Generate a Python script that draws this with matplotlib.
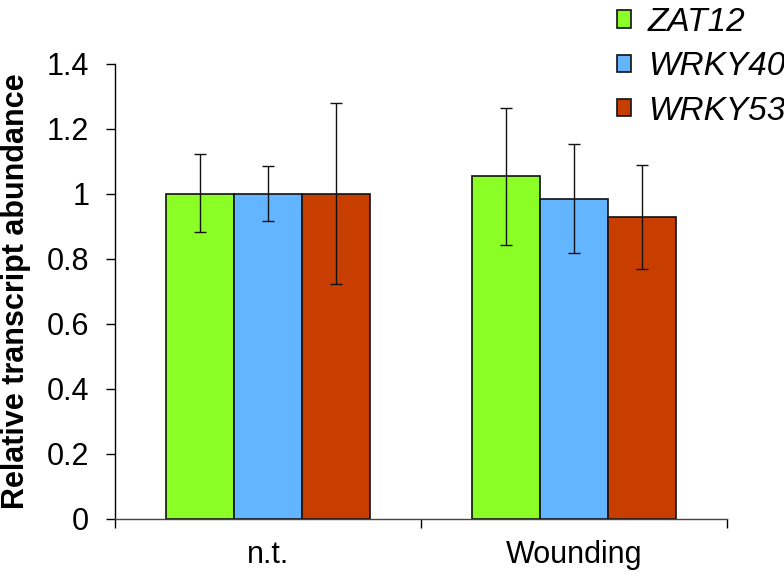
import numpy as np
import matplotlib
matplotlib.use("Agg")
import matplotlib.pyplot as plt

plt.rcParams['font.family'] = ['Liberation Sans', 'DejaVu Sans']

# data
groups = ['n.t.', 'Wounding']
genes = ['ZAT12', 'WRKY40', 'WRKY53']
zat12 = [1.0, 1.055]
wrky40 = [1.0, 0.986]
wrky53 = [1.0, 0.930]
zat12_err_hi = [1.122, 1.263]
zat12_err_lo = [0.882, 0.844]
wrky40_err_hi = [1.086, 1.154]
wrky40_err_lo = [0.917, 0.818]
wrky53_err_hi = [1.279, 1.089]
wrky53_err_lo = [0.724, 0.769]
colors = ['#8BFF25', '#63B5FF', '#C83E00']
yticks = [0, 0.2, 0.4, 0.6, 0.8, 1.0, 1.2, 1.4]
ytick_labels = ['0', '0.2', '0.4', '0.6', '0.8', '1', '1.2', '1.4']

fig = plt.figure(figsize=(7.84, 5.72), dpi=100)
ax = fig.add_axes([0.1467, 0.0927, 0.7806, 0.7955])

x = np.arange(len(groups))
w = 0.222
vals = [zat12, wrky40, wrky53]
his = [zat12_err_hi, wrky40_err_hi, wrky53_err_hi]
los = [zat12_err_lo, wrky40_err_lo, wrky53_err_lo]
for i in range(3):
    pos = x + (i - 1) * w
    v = np.array(vals[i])
    yerr = [v - np.array(los[i]), np.array(his[i]) - v]
    ax.bar(pos, v, w, color=colors[i], edgecolor='#111111', linewidth=1.2,
           label=genes[i], zorder=2)
    ax.errorbar(pos, v, yerr=yerr, fmt='none', ecolor='#111111',
                elinewidth=1.0, capsize=4.3, capthick=1.0, zorder=3)

ax.set_xlim(-0.5, 1.5)
ax.set_ylim(0, 1.4)
ax.set_yticks(yticks)
ax.set_yticklabels(ytick_labels)
ax.set_xticks(x)
ax.set_xticklabels(groups)
ax.set_xticks([-0.5, 0.5, 1.5], minor=True)
ax.tick_params(axis='x', which='major', length=0, pad=15, labelsize=22)
ax.tick_params(axis='x', which='minor', length=6.5, width=1.0, direction='out')
ax.tick_params(axis='y', length=6.5, width=1.0, pad=12, labelsize=22)
for s in ['top', 'right']:
    ax.spines[s].set_visible(False)
for s in ['left', 'bottom']:
    ax.spines[s].set_linewidth(1.0)
ax.spines['bottom'].set_color('#444444')

ax.set_ylabel('Relative transcript abundance', fontsize=22, fontweight='bold')
ax.yaxis.set_label_coords(-0.137, 0.5)

leg = fig.legend(loc='upper left', bbox_to_anchor=(0.787, 0.988), frameon=False,
                 prop={'style': 'italic', 'size': 24}, handlelength=0.42,
                 handleheight=0.42, handletextpad=0.5, labelspacing=0.4,
                 borderpad=0, borderaxespad=0)

fig.savefig('out.png', dpi=100)
